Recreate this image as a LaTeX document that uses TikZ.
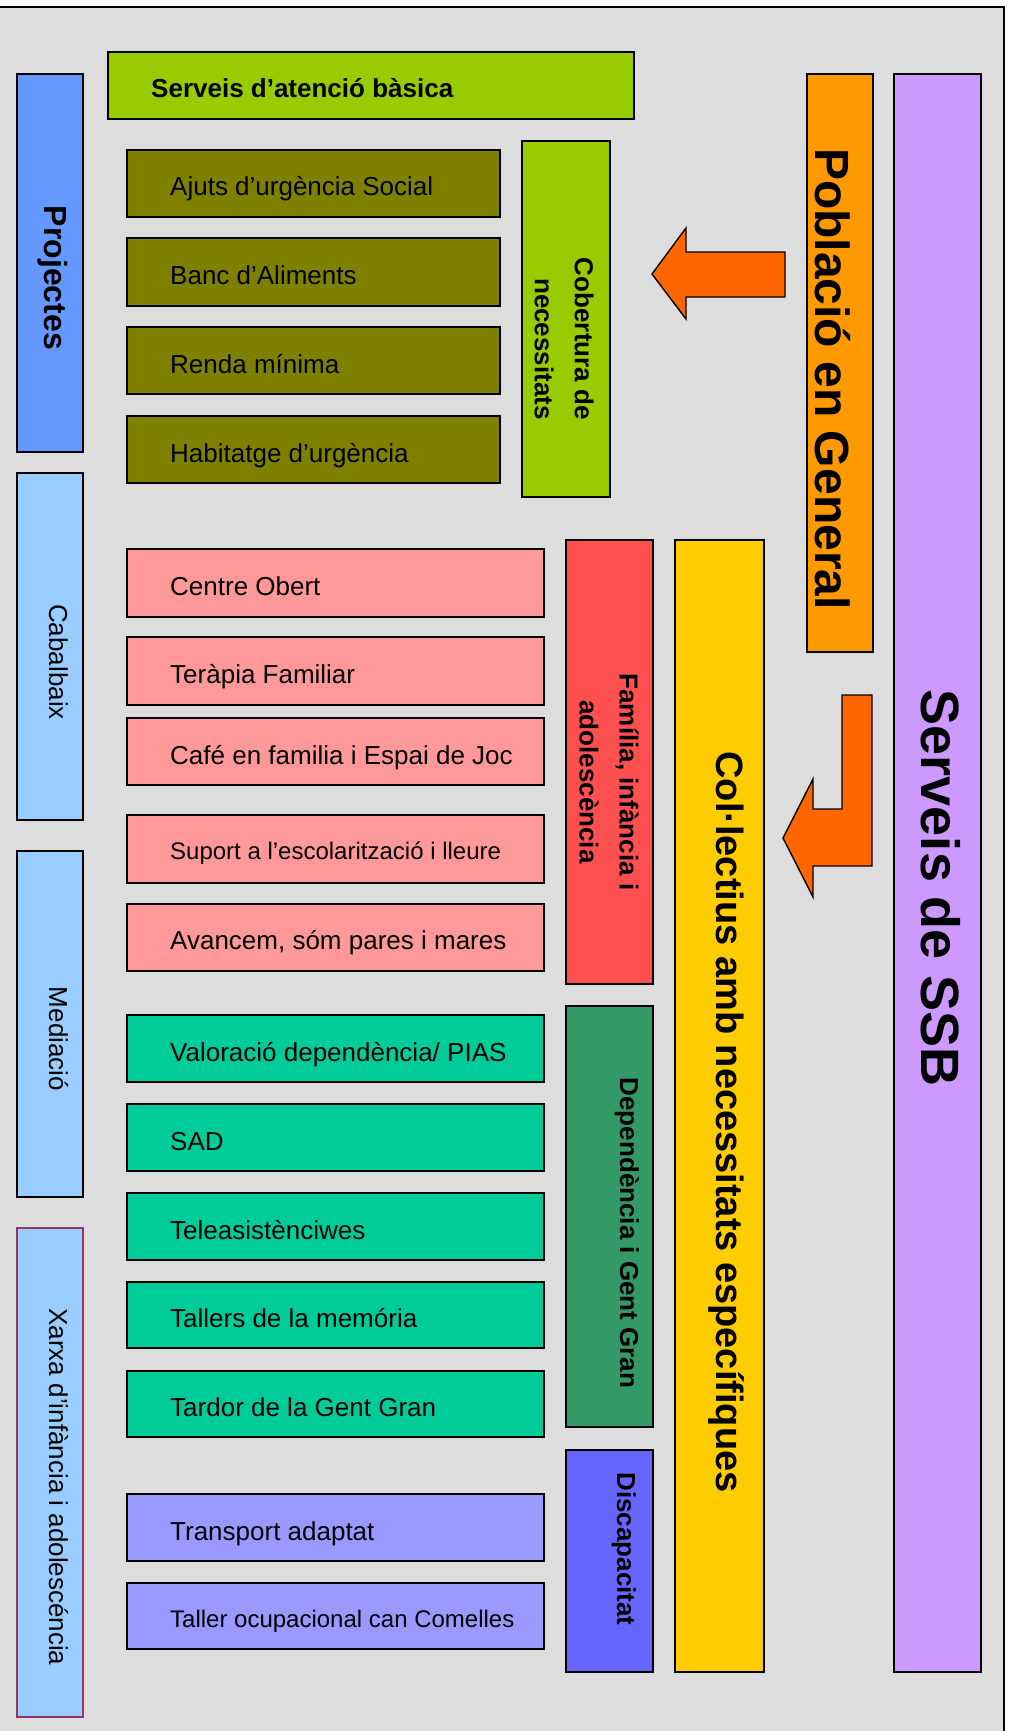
\documentclass[tikz,border=0pt]{standalone}
\usepackage{fontspec}
\setmainfont{Liberation Sans}
\definecolor{panelgray}{HTML}{DDDDDD}
\definecolor{basicgreen}{HTML}{99CC00}
\definecolor{olivebox}{HTML}{808000}
\definecolor{projblue}{HTML}{6699FF}
\definecolor{lightblue}{HTML}{99CCFF}
\definecolor{xarxaedge}{HTML}{993366}
\definecolor{pinkbox}{HTML}{FF9999}
\definecolor{famred}{HTML}{FF5050}
\definecolor{tealbox}{HTML}{00CC99}
\definecolor{depgreen}{HTML}{339966}
\definecolor{discblue}{HTML}{6666FF}
\definecolor{lilacbox}{HTML}{9999FF}
\definecolor{colyellow}{HTML}{FFCC00}
\definecolor{poborange}{HTML}{FF9900}
\definecolor{arroworange}{HTML}{FF6600}
\definecolor{ssbpurple}{HTML}{CC99FF}
\begin{document}
\begin{tikzpicture}[x=1pt, y=-1pt,
    box/.style={draw=black, line width=1.4pt},
    item/.style={anchor=base west, inner sep=0pt, font=\fontsize{26}{30}\selectfont},
    smallitem/.style={item, font=\fontsize{24}{28}\selectfont},
    side/.style={rotate=-90, anchor=base, inner sep=0pt, font=\fontsize{26}{30}\selectfont},
    sidebold/.style={side, font=\fontsize{26}{40}\selectfont\bfseries}]
  \useasboundingbox (0,0) rectangle (1012,1731);
  \clip (0,0) rectangle (1012,1731);
  % frame
  \draw[box, fill=panelgray] (-10,7) rectangle (1004,1745);

  % left column: projects
  \draw[box, fill=projblue] (17,74) rectangle (83,452);
  \draw[box, fill=lightblue] (17,473) rectangle (83,820);
  \draw[box, fill=lightblue] (17,851) rectangle (83,1197);
  \draw[box, fill=lightblue, draw=xarxaedge] (17,1228) rectangle (83,1717);
  \node[side, font=\fontsize{32}{36}\selectfont\bfseries] (projectes) at (44,278) {Projectes};
  \node[side] (cabalbaix) at (49,662) {Cabalbaix};
  \node[side] (mediacio) at (49,1039) {Mediació};
  \node[side] (xarxa) at (49,1487) {Xarxa d’infància i adolescéncia};

  % basic services
  \draw[box, fill=basicgreen] (108,52) rectangle (634,119);
  \node[item, font=\fontsize{26}{30}\selectfont\bfseries] (basica) at (151,98) {Serveis d’atenció bàsica};
  \draw[box, fill=olivebox] (127,150) rectangle (500,217);
  \draw[box, fill=olivebox] (127,238) rectangle (500,306);
  \draw[box, fill=olivebox] (127,327) rectangle (500,394);
  \draw[box, fill=olivebox] (127,416) rectangle (500,483);
  \node[item] (ajuts) at (170,196) {Ajuts d’urgència Social};
  \node[item] (banc) at (170,284) {Banc d’Aliments};
  \node[item] (renda) at (170,373) {Renda mínima};
  \node[item] (habitatge) at (170,462) {Habitatge d’urgència};
  \draw[box, fill=basicgreen] (522,141) rectangle (610,497);
  \node[sidebold, align=right, anchor=north east] (cobertura) at (594,420) {Cobertura de\\necessitats};

  % family
  \draw[box, fill=pinkbox] (127,549) rectangle (544,617);
  \draw[box, fill=pinkbox] (127,637) rectangle (544,705);
  \draw[box, fill=pinkbox] (127,718) rectangle (544,785);
  \draw[box, fill=pinkbox] (127,815) rectangle (544,883);
  \draw[box, fill=pinkbox] (127,904) rectangle (544,971);
  \node[item] (centre) at (170,595) {Centre Obert};
  \node[item] (terapia) at (170,683) {Teràpia Familiar};
  \node[item] (cafe) at (170,764) {Café en familia i Espai de Joc};
  \node[smallitem] (suport) at (170,859) {Suport a l’escolarització i lleure};
  \node[item] (avancem) at (170,949) {Avancem, sóm pares i mares};
  \draw[box, fill=famred] (566,540) rectangle (653,984);
  \node[sidebold, align=center, anchor=north] (familia) at (639,782) {Família, infància i\\adolescència};

  % dependency
  \draw[box, fill=tealbox] (127,1015) rectangle (544,1082);
  \draw[box, fill=tealbox] (127,1104) rectangle (544,1171);
  \draw[box, fill=tealbox] (127,1193) rectangle (544,1260);
  \draw[box, fill=tealbox] (127,1282) rectangle (544,1348);
  \draw[box, fill=tealbox] (127,1371) rectangle (544,1437);
  \node[item] (valoracio) at (170,1061) {Valoració dependència/ PIAS};
  \node[item] (sad) at (170,1150) {SAD};
  \node[item] (teleas) at (170,1239) {Teleasistènciwes};
  \node[item] (tallers) at (170,1327) {Tallers de la memória};
  \node[item] (tardor) at (170,1416) {Tardor de la Gent Gran};
  \draw[box, fill=depgreen] (566,1006) rectangle (653,1427);
  \node[sidebold] (dependencia) at (620,1233) {Dependència i Gent Gran};

  % disability
  \draw[box, fill=lilacbox] (127,1494) rectangle (544,1561);
  \draw[box, fill=lilacbox] (127,1583) rectangle (544,1649);
  \node[item] (transport) at (170,1540) {Transport adaptat};
  \node[smallitem] (taller) at (170,1627) {Taller ocupacional can Comelles};
  \draw[box, fill=discblue] (566,1450) rectangle (653,1672);
  \node[sidebold] (discapacitat) at (617,1549) {Discapacitat};

  % right columns
  \draw[box, fill=colyellow] (675,540) rectangle (764,1672);
  \node[side, font=\fontsize{38}{42}\selectfont\bfseries] (collectius) at (716,1122) {Col·lectius amb necessitats específiques};
  \draw[box, fill=poborange] (807,74) rectangle (873,652);
  \node[side, font=\fontsize{48}{52}\selectfont\bfseries] (poblacio) at (815,379) {Població en General};
  \draw[box, fill=ssbpurple] (894,74) rectangle (981,1672);
  \node[side, font=\fontsize{54}{58}\selectfont\bfseries] (ssb) at (921,888) {Serveis de SSB};

  % arrows
  \draw[box, fill=arroworange, line join=miter]
    (785,252) -- (686,252) -- (686,228) -- (652,274) -- (686,319) -- (686,297) -- (785,297) -- cycle;
  \draw[box, fill=arroworange, line join=miter]
    (872,695) -- (842,695) -- (842,809) -- (813,809) -- (813,779) -- (783,838)
    -- (813,897) -- (813,866) -- (872,866) -- cycle;
\end{tikzpicture}
\end{document}
